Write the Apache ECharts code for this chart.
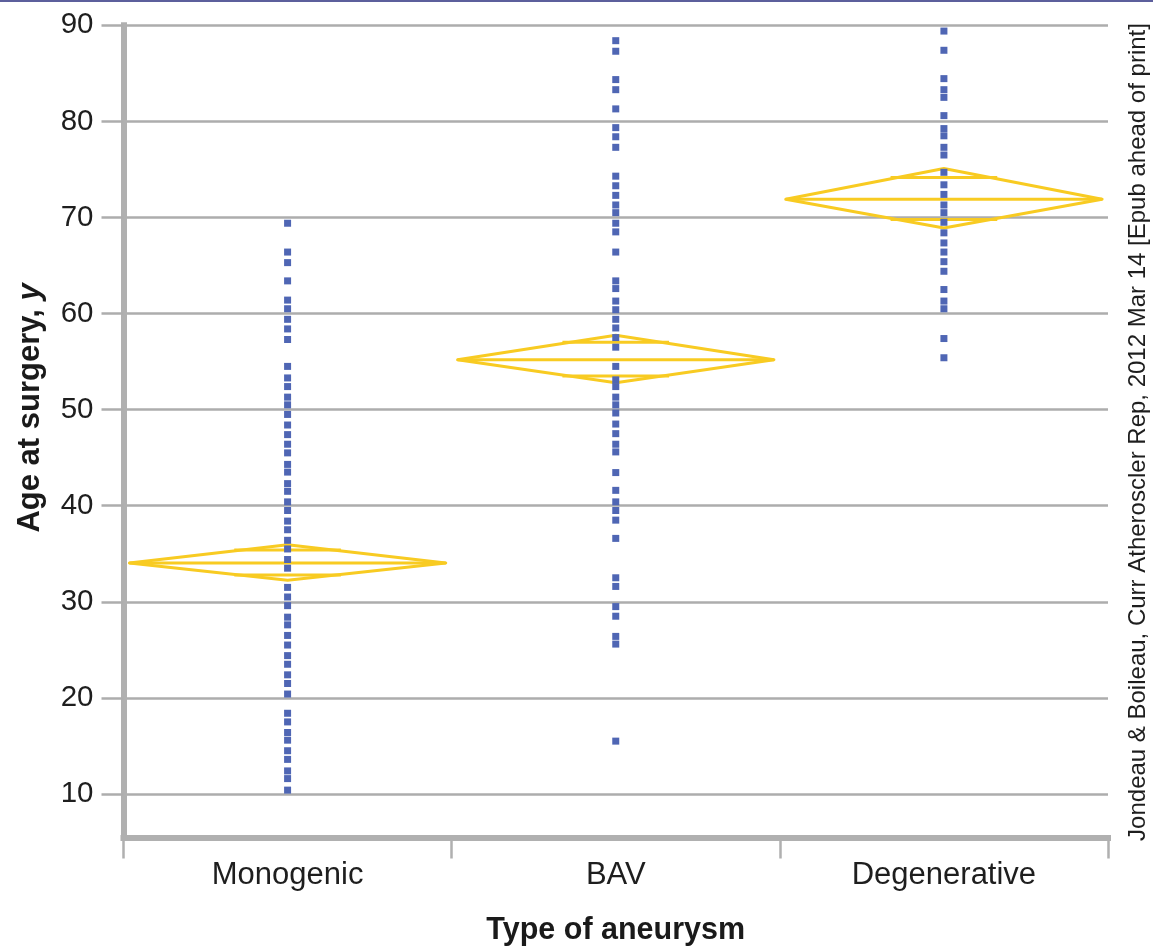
<!DOCTYPE html>
<html><head><meta charset="utf-8">
<script src="https://cdn.jsdelivr.net/npm/echarts@6/dist/echarts.min.js"></script>
<style>html,body{margin:0;padding:0;background:#fff}#c{width:1153px;height:948px}</style>
</head><body><div id="c"></div>
<script>
const categories = ['Monogenic', 'BAV', 'Degenerative'];
const yTicks = [10, 20, 30, 40, 50, 60, 70, 80, 90];

const monogenicAges = [69.4, 66.4, 65.3, 63.4, 61.4, 60.5, 59.4, 58.4, 57.3, 54.5, 53.3, 52.4, 51.3, 50.5,
  49.5, 48.4, 47.4, 46.4, 45.5, 44.3, 43.5, 42.3, 41.5, 40.4, 39.5, 38.4, 37.5, 36.4, 35.5, 34.4, 33.5,
  31.5, 30.5, 29.6, 28.4, 27.6, 26.5, 25.5, 24.4, 23.5, 22.4, 21.5, 20.4, 18.4, 17.5, 16.4, 15.6, 14.5,
  13.6, 12.4, 11.6, 10.4];
const bavAges = [88.4, 87.3, 84.35, 83.3, 81.3, 79.35, 78.4, 77.3, 74.3, 73.3, 72.3, 71.3, 70.5, 69.4, 68.5,
  66.4, 63.4, 62.6, 61.3, 60.4, 59.4, 58.5, 57.5, 56.5, 54.5, 53.1, 52.4, 51.3, 50.5, 49.65, 48.5, 47.5,
  46.4, 45.6, 43.45, 41.6, 40.4, 39.5, 38.5, 36.6, 32.5, 31.6, 29.5, 28.5, 26.4, 25.6, 15.5];
const degenerativeAges = [89.4, 87.4, 84.45, 83.3, 82.5, 80.6, 79.25, 78.5, 77.3, 76.5, 74.7, 73.4, 72.4,
  71.3, 70.5, 69.5, 68.4, 67.35, 66.4, 65.4, 64.4, 62.5, 61.3, 60.5, 57.4, 55.4];

const groupMeans = [34.05, 55.2, 71.9];
const ciLower = [32.25, 52.8, 68.9];
const ciUpper = [35.95, 57.75, 75.1];

const FONT = '"Liberation Sans", Arial, Helvetica, sans-serif';
const DOT = '#4f66b4';
const YEL = '#f8cb22';
const AXIS = '#b0b0b0';
const GRID = '#adadad';

const groups = [monogenicAges, bavAges, degenerativeAges];
const dotData = [];
groups.forEach((arr, gi) => arr.forEach(v => dotData.push([gi, v])));
const diamondData = groupMeans.map((m, i) => [i, m, ciLower[i], ciUpper[i]]);

const chart = echarts.init(document.getElementById('c'), null, {renderer: 'canvas'});
chart.setOption({
  animation: false,
  backgroundColor: '#fff',
  textStyle: {fontFamily: FONT},
  grid: {left: 123.5, right: 45, top: 25.3, bottom: 110.5, containLabel: false, outerBoundsMode: 'none'},
  xAxis: {
    type: 'category', data: categories, boundaryGap: true,
    axisLine: {show: true, lineStyle: {color: AXIS, width: 6, cap: 'square'}},
    axisTick: {show: true, length: 21, lineStyle: {color: AXIS, width: 2.5}},
    axisLabel: {fontSize: 31, color: '#1e1e1e', margin: 22, fontFamily: FONT},
    splitLine: {show: false},
    name: 'Type of aneurysm', nameLocation: 'middle', nameGap: 78,
    nameTextStyle: {fontSize: 30.5, fontWeight: 'bold', color: '#1a1a1a', fontFamily: FONT}
  },
  yAxis: {
    type: 'value', min: 5.47, max: 90, splitNumber: 8,
    axisLine: {show: true, lineStyle: {color: AXIS, width: 6, cap: 'square'}},
    axisTick: {show: true, length: 22, customValues: yTicks, lineStyle: {color: GRID, width: 2.5}},
    axisLabel: {customValues: yTicks, fontSize: 29.5, color: '#1e1e1e', margin: 30, fontFamily: FONT},
    splitLine: {show: true, lineStyle: {color: GRID, width: 2.5}}
  },
  graphic: [
    {type: 'rect', left: 0, top: 0, z: 100, shape: {width: 1153, height: 2}, style: {fill: '#5c5f9c'}},
    {type: 'text', x: 30, y: 408, rotation: Math.PI / 2, z: 100,
      style: {text: '{b|Age at surgery, }{i|y}', align: 'center', verticalAlign: 'middle',
        rich: {
          b: {fontSize: 31, fontWeight: 'bold', fill: '#1a1a1a', fontFamily: FONT},
          i: {fontSize: 31, fontWeight: 'bold', fontStyle: 'italic', fill: '#1a1a1a', fontFamily: FONT}
        }}},
    {type: 'text', x: 1138, y: 432, rotation: Math.PI / 2, z: 100,
      style: {text: 'Jondeau & Boileau, Curr Atheroscler Rep, 2012 Mar 14 [Epub ahead of print]',
        align: 'center', verticalAlign: 'middle', fontSize: 24, fill: '#1e1e1e', fontFamily: FONT}}
  ],
  series: [
    {
      type: 'custom', z: 2, data: diamondData,
      renderItem: function (params, api) {
        const i = api.value(0);
        const c = api.coord([i, api.value(1)]);
        const lo = api.coord([i, api.value(2)]);
        const hi = api.coord([i, api.value(3)]);
        const band = api.size([1, 0])[0];
        const hw = band * 0.482;
        const x = c[0], y = c[1];
        const dUp = (y - hi[1]) / Math.SQRT2;
        const dDn = (lo[1] - y) / Math.SQRT2;
        const ow = hw * (1 - 1 / Math.SQRT2) + 7;
        const st = {stroke: YEL, lineWidth: 3, fill: null, lineJoin: 'round'};
        return {
          type: 'group',
          children: [
            {type: 'polygon', shape: {points: [[x - hw, y], [x, hi[1]], [x + hw, y], [x, lo[1]]]}, style: st},
            {type: 'line', shape: {x1: x - hw, y1: y, x2: x + hw, y2: y}, style: st},
            {type: 'line', shape: {x1: x - ow, y1: y - dUp, x2: x + ow, y2: y - dUp}, style: st},
            {type: 'line', shape: {x1: x - ow, y1: y + dDn, x2: x + ow, y2: y + dDn}, style: st}
          ]
        };
      }
    },
    {
      type: 'scatter', z: 5, data: dotData, symbol: 'rect', symbolSize: 7,
      itemStyle: {color: DOT, opacity: 1}
    }
  ]
});
</script>
</body></html>
